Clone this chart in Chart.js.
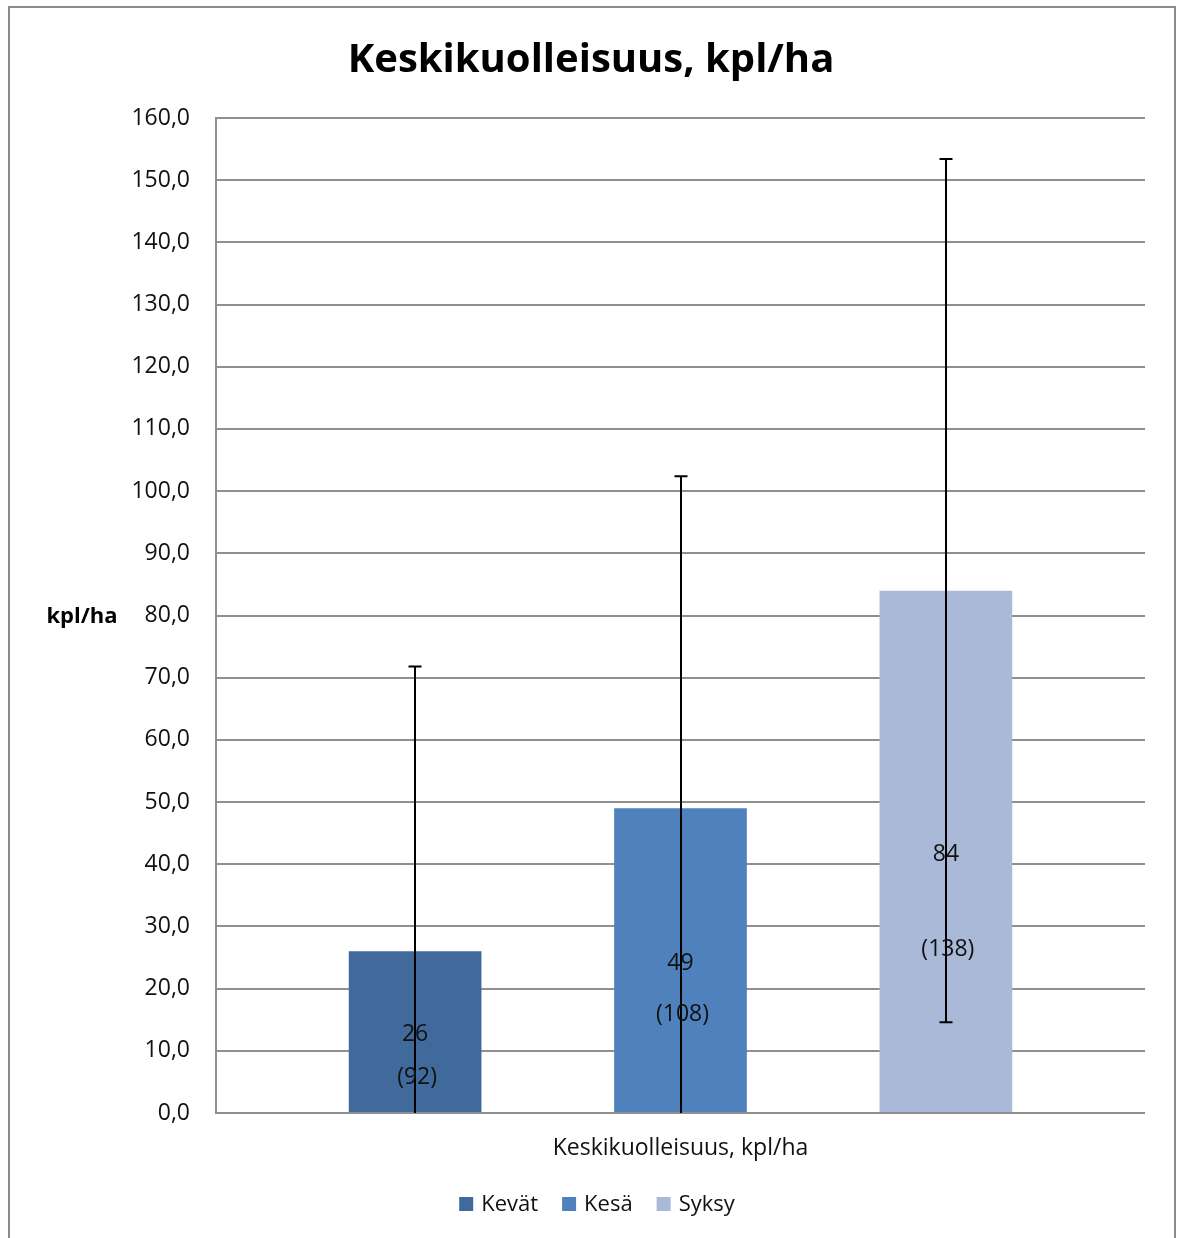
<!DOCTYPE html>
<html>
<head>
<meta charset="utf-8">
<script src="https://cdn.jsdelivr.net/npm/chart.js@4/dist/chart.umd.min.js"></script>
<style>
  html, body { margin: 0; padding: 0; background: #fff; }
  #wrap { position: relative; width: 1181px; height: 1238px; }
</style>
</head>
<body>
<div id="wrap"><canvas id="chart"></canvas></div>
<script>
const categories = ["Keskikuolleisuus, kpl/ha"];
const seriesNames = ["Kevät", "Kesä", "Syksy"];
const seriesValues = [26, 49, 84];
const seriesErrors = [45.8, 53.4, 69.4];
const seriesCounts = [92, 108, 138];
const colors = ["rgb(64, 105, 156)", "rgb(79, 129, 189)", "rgb(170, 185, 215)"];

const FONT = "'Open Sans', 'Noto Sans', sans-serif";

const fmt = (v) => v.toFixed(1).replace(".", ",");

// frame, title, legend, error bars, value labels, y title
const extras = {
  id: "extras",
  beforeDraw(chart) {
    const ctx = chart.ctx;
    ctx.save();
    ctx.fillStyle = "#fff";
    ctx.fillRect(0, 0, chart.width, chart.height);
    ctx.strokeStyle = "#8c8c8c";
    ctx.lineWidth = 2;
    ctx.strokeRect(9, 7, 1166, 1245);
    ctx.restore();
  },
  afterDraw(chart, args, opts) {
    const ctx = chart.ctx;
    ctx.save();
    ctx.fillStyle = "#000";
    ctx.font = "bold 40px " + FONT;
    ctx.textAlign = "center";
    ctx.textBaseline = "middle";
    ctx.fillText(opts.title, 591, 61);

    // legend
    ctx.font = "22px " + FONT;
    const box = 14, gapText = 8, gapItem = 24;
    const widths = seriesNames.map((n) => ctx.measureText(n).width);
    const total = widths.reduce((a, w) => a + box + gapText + w, 0) + gapItem * (seriesNames.length - 1);
    let x = 597 - total / 2;
    const ly = 1204;
    ctx.textAlign = "left";
    seriesNames.forEach((n, i) => {
      ctx.fillStyle = colors[i];
      ctx.fillRect(x, ly - box / 2, box, box);
      ctx.fillStyle = "#111";
      ctx.fillText(n, x + box + gapText, ly + 1);
      x += box + gapText + widths[i] + gapItem;
    });
    ctx.restore();
  },
  afterDatasetsDraw(chart, args, opts) {
    const ctx = chart.ctx;
    const y = chart.scales.y;
    const area = chart.chartArea;
    ctx.save();
    chart.data.datasets.forEach((ds, i) => {
      const bar = chart.getDatasetMeta(i).data[0];
      const x = Math.round(bar.x);
      const v = ds.data[0];
      const e = seriesErrors[i];
      const top = y.getPixelForValue(v + e);
      const low = v - e;
      const bottom = low < 0 ? area.bottom : y.getPixelForValue(low);
      ctx.strokeStyle = "#000";
      ctx.lineWidth = 2;
      ctx.beginPath();
      ctx.moveTo(x, top);
      ctx.lineTo(x, bottom);
      ctx.moveTo(x - 6.5, top);
      ctx.lineTo(x + 6.5, top);
      if (low >= 0) {
        ctx.moveTo(x - 6.5, bottom);
        ctx.lineTo(x + 6.5, bottom);
      }
      ctx.stroke();

      // value label at bar centre, count below it
      const mid = (bar.y + bar.base) / 2;
      ctx.fillStyle = "#111";
      ctx.font = "23px " + FONT;
      ctx.textAlign = "center";
      ctx.textBaseline = "middle";
      ctx.fillText(String(v), bar.x, mid + 3);
      ctx.fillText("(" + seriesCounts[i] + ")", bar.x + 2, mid + 3 + opts.countOffsets[i]);
    });

    ctx.fillStyle = "#000";
    ctx.font = "bold 22px " + FONT;
    ctx.textAlign = "center";
    ctx.textBaseline = "middle";
    ctx.fillText("kpl/ha", 82, y.getPixelForValue(80) + 1);
    ctx.restore();
  },
};

const chartConfig = {
  type: "bar",
  data: {
    labels: categories,
    datasets: seriesNames.map((name, i) => ({
      label: name,
      data: [seriesValues[i]],
      backgroundColor: colors[i],
      borderWidth: 0,
    })),
  },
  options: {
    responsive: true,
    maintainAspectRatio: false,
    animation: false,
    events: [],
    layout: {
      padding: { left: 0, right: 36, top: 118, bottom: 0 },
    },
    datasets: {
      bar: { categoryPercentage: 0.857, barPercentage: 0.5 },
    },
    plugins: {
      tooltip: { enabled: false },
      title: { display: false },
      legend: { display: false },
      extras: {
        title: "Keskikuolleisuus, kpl/ha",
        countOffsets: [43, 51, 95],
      },
    },
    scales: {
      x: {
        grid: { display: false },
        border: { display: false },
        afterFit: (scale) => { scale.height = 125; },
        ticks: {
          color: "#111",
          padding: 14,
          maxRotation: 0,
          font: { family: FONT, size: 23 },
        },
      },
      y: {
        min: 0,
        max: 160,
        afterFit: (scale) => { scale.width = 216; },
        grid: { color: "#8f8f8f", lineWidth: 2, drawTicks: false },
        border: { color: "#8f8f8f", width: 2 },
        ticks: {
          stepSize: 10,
          color: "#111",
          padding: 26,
          font: { family: FONT, size: 23 },
          callback: (v) => fmt(v),
        },
      },
    },
  },
  plugins: [extras],
};

new Chart(document.getElementById("chart"), chartConfig);
</script>
</body>
</html>
